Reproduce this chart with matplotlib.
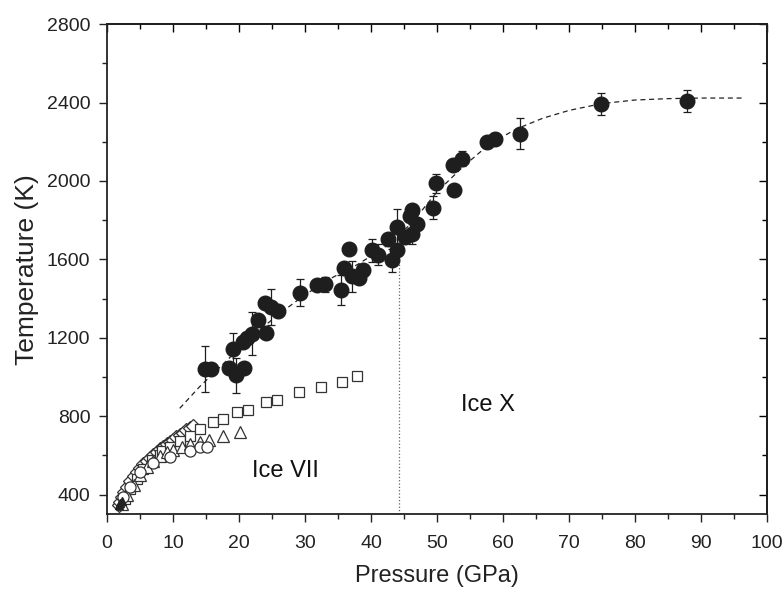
import numpy as np
import matplotlib
matplotlib.use("Agg")
import matplotlib.pyplot as plt
from matplotlib.ticker import MultipleLocator

plt.rcParams['font.family'] = ['Liberation Sans', 'DejaVu Sans']

# Filled circles with error bars (high-T data)
p_hot = [14.8, 15.7, 18.5, 19.0, 19.5, 20.7, 20.6, 21.2, 21.9, 22.8, 23.9, 24.1, 24.9, 25.9,
         29.2, 31.8, 33.0, 35.4, 35.9, 36.6, 37.1, 38.1, 38.8, 40.2, 41.1, 42.6, 43.2, 43.9,
         43.9, 45.2, 46.2, 45.9, 46.2, 47.0, 49.4, 49.8, 52.6, 52.4, 53.7, 57.5, 58.8, 62.6,
         74.8, 87.9]
t_hot = [1040, 1042, 1047, 1144, 1008, 1047, 1178, 1200, 1220, 1292, 1379, 1226, 1357, 1336,
         1430, 1467, 1472, 1442, 1556, 1655, 1513, 1507, 1547, 1646, 1624, 1706, 1595, 1765,
         1646, 1714, 1728, 1820, 1850, 1782, 1864, 1988, 1952, 2080, 2114, 2199, 2216, 2242,
         2392, 2407]
t_err = [117, 0, 0, 80, 90, 0, 0, 0, 110, 0, 0, 0, 90, 0,
         70, 0, 40, 77, 0, 0, 80, 0, 0, 60, 55, 0, 60, 90,
         0, 0, 50, 0, 0, 0, 60, 50, 0, 0, 40, 30, 30, 77,
         55, 55]

# Dashed fit through the hot data
p_fit = [11, 14, 18, 22, 26, 30, 34, 38, 42, 46, 50, 54, 58, 62, 66, 70, 75, 80, 85, 90, 96.3]
t_fit = [840, 950, 1080, 1210, 1320, 1420, 1505, 1575, 1660, 1780, 1945, 2075, 2190, 2265,
         2320, 2360, 2395, 2413, 2420, 2423, 2423]

# Open markers (melting curve data sets)
p_sq = [2.7, 3.5, 4.5, 5.5, 6.8, 8.0, 8.3, 9.5, 11.1, 12.5, 14.1, 16.0, 17.5, 19.7, 21.4, 24.0,
        25.8, 29.1, 32.4, 35.6, 37.9]
t_sq = [378, 430, 480, 530, 574, 600, 621, 645, 672, 701, 735, 769, 786, 820, 832, 871,
        885, 922, 948, 973, 1003]

p_tri = [2.2, 3.0, 4.0, 5.0, 6.0, 7.0, 8.0, 9.0, 10.0, 11.3, 12.6, 14.0, 15.4, 17.5, 20.2]
t_tri = [350, 400, 450, 500, 540, 570, 595, 615, 630, 642, 659, 667, 679, 701, 718]

p_circ = [2.4, 3.5, 5.0, 7.0, 9.5, 12.6, 14.1, 15.1]
t_circ = [386, 437, 514, 560, 594, 624, 642, 645]

p_dia = [1.8, 2.0, 2.3, 2.6, 3.0, 3.5, 4.0, 4.5, 5.0, 5.5, 6.0, 6.5, 7.0, 7.5, 8.0, 8.5,
         9.0, 9.5, 10.0, 10.5, 11.0, 11.5, 12.0, 12.5, 13.0]
t_dia = [345, 362, 390, 415, 440, 470, 495, 517, 537, 555, 572, 588, 603, 617, 631, 644,
         657, 669, 681, 692, 704, 715, 727, 740, 752]

p_low = [1.8, 2.0, 2.2]
t_low = [345, 355, 368]

# VII-X boundary
p_bound = [44.2, 44.2]
t_bound = [300, 1600]

fig = plt.figure(figsize=(7.82, 5.89), dpi=100)
ax = fig.add_axes([0.137, 0.127, 0.844, 0.832])

ax.plot(p_bound, t_bound, color='#666666', linestyle=':', linewidth=0.9)
ax.plot(p_fit, t_fit, color='#222222', linestyle=(0, (4, 3)), linewidth=0.9)

open_style = dict(linestyle='none', markerfacecolor='white', markeredgecolor='#333333',
                  markeredgewidth=0.9)
ax.plot(p_dia, t_dia, marker='D', markersize=7.5, **open_style)
ax.plot(p_sq, t_sq, marker='s', markersize=7, **open_style)
ax.plot(p_tri, t_tri, marker='^', markersize=8.5, **open_style)
ax.plot(p_circ, t_circ, marker='o', markersize=8, **open_style)
ax.plot(p_low, t_low, marker='^', markersize=6, linestyle='none', color='#222222')

ax.errorbar(p_hot, t_hot, yerr=t_err, fmt='o', color='#1e1e1e', markersize=10.5,
            ecolor='#1e1e1e', elinewidth=0.9, capsize=3, capthick=0.9)

ax.text(27.0, 522, 'Ice VII', fontsize=17, ha='center', va='center', color='#111111')
ax.text(57.7, 855, 'Ice X', fontsize=17, ha='center', va='center', color='#111111')

ax.set_xlim(0, 100)
ax.set_ylim(300, 2800)
ax.xaxis.set_major_locator(MultipleLocator(10))
ax.xaxis.set_minor_locator(MultipleLocator(5))
ax.yaxis.set_major_locator(MultipleLocator(400))
ax.yaxis.set_minor_locator(MultipleLocator(200))
ax.set_yticks([400, 800, 1200, 1600, 2000, 2400, 2800])

ax.tick_params(which='both', direction='out', top=False, right=False, width=1,
               labelsize=14, colors='#222222')
ax.tick_params(which='major', length=6)
ax.tick_params(which='minor', length=3.5)
ax.tick_params(axis='x', which='major', pad=9)
ax.tick_params(axis='y', which='major', pad=6)

# inward ticks on the top and right edges
ax_top = ax.secondary_xaxis('top')
ax_top.xaxis.set_major_locator(MultipleLocator(10))
ax_top.xaxis.set_minor_locator(MultipleLocator(5))
ax_top.tick_params(which='both', direction='in', labeltop=False, width=1)
ax_top.tick_params(which='major', length=6)
ax_top.tick_params(which='minor', length=3.5)
ax_right = ax.secondary_yaxis('right')
ax_right.yaxis.set_major_locator(MultipleLocator(400))
ax_right.yaxis.set_minor_locator(MultipleLocator(200))
ax_right.tick_params(which='both', direction='in', labelright=False, width=1)
ax_right.tick_params(which='major', length=6)
ax_right.tick_params(which='minor', length=3.5)

for sp in ax.spines.values():
    sp.set_linewidth(1.3)
    sp.set_color('#222222')
ax_top.spines['top'].set_linewidth(1.3)
ax_right.spines['right'].set_linewidth(1.3)

ax.set_xlabel('Pressure (GPa)', fontsize=17, color='#222222', labelpad=9)
ax.set_ylabel('Temperature (K)', fontsize=19, color='#222222', labelpad=6)

fig.savefig('out.png', dpi=100)
